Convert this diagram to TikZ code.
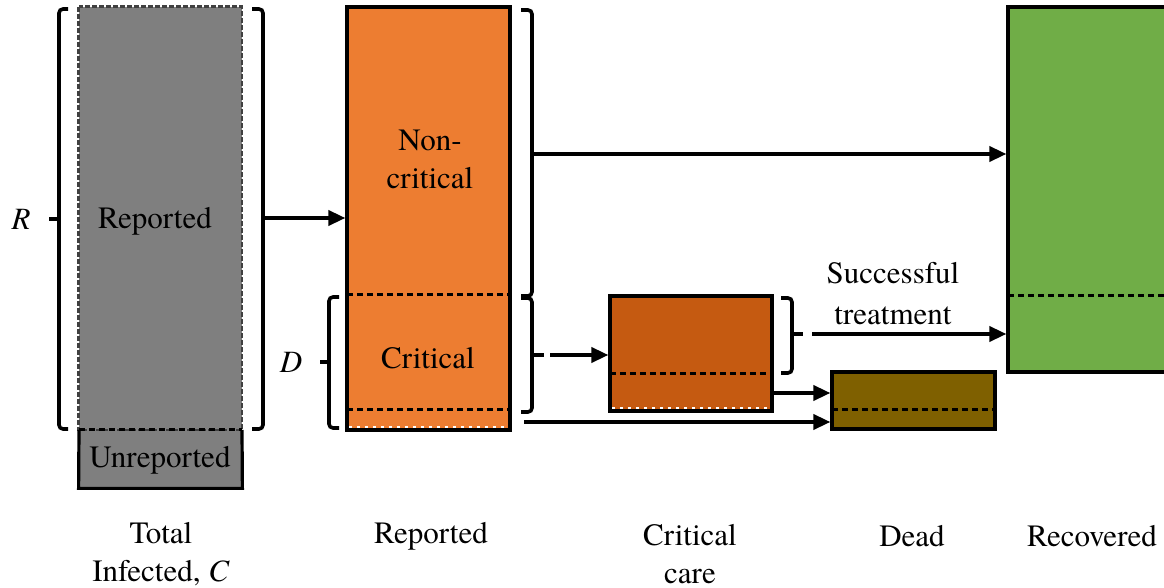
\documentclass[tikz,border=0pt]{standalone}
\usepackage{fontspec}
\setmainfont{texgyretermes}[Extension=.otf, UprightFont=*-regular, ItalicFont=*-italic, BoldFont=*-bold]
\newfontfamily\tnr{texgyretermes}[Extension=.otf, UprightFont=*-regular, ItalicFont=*-italic, BoldFont=*-bold]
\usetikzlibrary{arrows.meta,fit}
\definecolor{grayc}{HTML}{7F7F7F}
\definecolor{orangec}{HTML}{ED7D31}
\definecolor{ccarec}{HTML}{C55A11}
\definecolor{deadc}{HTML}{7F6000}
\definecolor{recc}{HTML}{70AD47}
\tikzset{
  boxfill/.style={inner sep=0pt, draw=black, line width=1.6pt},
  sepline/.style={line width=1.5pt, dash pattern=on 3pt off 2pt},
  flow/.style={line width=1.8pt, -{Triangle[length=8.5pt,width=7.5pt]}},
  bracepath/.style={line width=1.8pt, rounded corners=2pt},
  whitedash/.style={white, line width=0.7pt, dash pattern=on 1.5pt off 2.5pt},
  lbl/.style={font=\tnr\fontsize{15.5}{19}\selectfont, align=center, inner sep=0pt},
}
\begin{document}
\begin{tikzpicture}[x=0.5pt,y=-0.5pt]
\useasboundingbox (0,0) rectangle (1164,588);
% ---- Total infected
\node[fit={(79,7)(242,488)}, inner sep=0pt, fill=grayc] (tot) {};
\draw[black!75, line width=1.2pt, dash pattern=on 2.5pt off 1pt] (tot.north west) rectangle (242,430);
\draw[line width=1.6pt] (79,430) -- (tot.south west) -- (tot.south east) -- (242,430);
\draw[sepline] (79,430) -- (242,430);
\node[lbl] (treported) at (155,221) {Reported};
\node[lbl] (tunrep) at (160,460) {Unreported};
% ---- Reported
\node[fit={(347,7)(510,430)}, boxfill, fill=orangec] (rep) {};
\draw[sepline] (347,295) -- (510,295);
\draw[sepline] (347,410) -- (510,410);
\draw[whitedash] (349,427) -- (508,427);
\node[lbl] (tnoncrit) at (430,159) {Non-\\critical};
\node[lbl] (tcrit) at (428,358) {Critical};
% ---- Critical care
\node[fit={(610,296)(772,411)}, boxfill, fill=ccarec] (cc) {};
\draw[sepline] (610,374) -- (772,374);
\draw[whitedash] (612,408) -- (770,408);
% ---- Dead
\node[fit={(832,372)(995,429)}, boxfill, fill=deadc] (dead) {};
\draw[sepline] (832,410) -- (995,410);
% ---- Recovered
\node[fit={(1008,7)(1175,372)}, boxfill, fill=recc] (rec) {};
\draw[sepline] (1008,296) -- (1175,296);
% ---- Braces
\draw[bracepath] (68,9) -- (59,9) -- (59,429) -- (68,429);
\draw[line width=1.8pt] (59,219) -- (49,219);
\node[lbl, font=\tnr\fontsize{15.5}{19}\selectfont\itshape] (tR) at (21,219) {R};
\draw[bracepath] (252,9) -- (263,9) -- (263,429) -- (252,429);
\coordinate (bR) at (263,218);
\draw[flow] (bR) -- (rep.west |- bR);
\draw[bracepath] (521,10) -- (532,10) -- (532,296) -- (521,296);
\coordinate (bNC) at (532,154);
\draw[flow] (bNC) -- (rec.west |- bNC);
\draw[bracepath] (521,298) -- (532,298) -- (532,412) -- (521,412);
\coordinate (bC) at (532,355);
\coordinate (bCa) at (544,355);
\coordinate (bCb) at (550,355);
\draw[line width=1.8pt] (bC) -- (bCa);
\draw[flow] (bCb) -- (cc.west |- bCb);
\draw[bracepath] (339,297) -- (329,297) -- (329,428) -- (339,428);
\draw[line width=1.8pt] (329,362) -- (320,362);
\node[lbl, font=\tnr\fontsize{15.5}{19}\selectfont\itshape] (tD) at (291,362) {D};
\draw[bracepath] (781,298) -- (792,298) -- (792,373) -- (781,373);
\coordinate (bS) at (792,334);
\coordinate (bSa) at (803,334);
\coordinate (bSb) at (812,334);
\draw[line width=1.8pt] (bS) -- (bSa);
\draw[flow] (bSb) -- (rec.west |- bSb);
\node[lbl, font=\tnr\fontsize{15.5}{20.5}\selectfont] (tsucc) at (893,294) {Successful\\treatment};
% ---- other flows
\coordinate (ccd) at (772,393);
\draw[flow] (ccd) -- (dead.west |- ccd);
\coordinate (repd) at (524,422);
\draw[flow] (repd) -- (dead.west |- repd);
% ---- bottom labels
\node[lbl] (ltot) at (161,554) {Total\\Infected, \textit{C}};
\node[lbl] (lrep) at (431,536) {Reported};
\node[lbl] (lcc) at (690,554) {Critical\\care};
\node[lbl] (ldead) at (912,536) {Dead};
\node[lbl] (lrec) at (1092,536) {Recovered};
\end{tikzpicture}
\end{document}
